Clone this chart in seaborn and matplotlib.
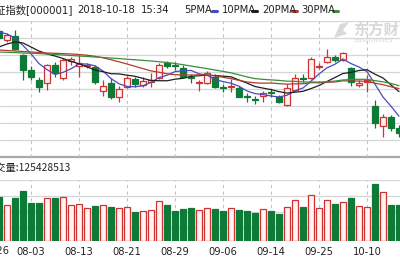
import numpy as np
import pandas as pd
import matplotlib
matplotlib.use("Agg")
import matplotlib.pyplot as plt
import seaborn as sns
from matplotlib.lines import Line2D
from matplotlib.patches import Polygon

# ---------------- data ----------------
dates = ["07-30", "07-31", "08-01", "08-02", "08-03", "08-06", "08-07", "08-08", "08-09", "08-10",
         "08-13", "08-14", "08-15", "08-16", "08-17", "08-20", "08-21", "08-22", "08-23", "08-24",
         "08-27", "08-28", "08-29", "08-30", "08-31", "09-03", "09-04", "09-05", "09-06", "09-07",
         "09-10", "09-11", "09-12", "09-13", "09-14", "09-17", "09-18", "09-19", "09-20", "09-21",
         "09-25", "09-26", "09-27", "09-28", "10-08", "10-09", "10-10", "10-11", "10-12", "10-15",
         "10-16"]
open_p = [2867, 2840, 2852, 2795, 2750, 2720, 2711, 2765, 2726, 2777, 2762, 2762, 2759, 2687, 2711,
          2669, 2699, 2723, 2705, 2714, 2726, 2771, 2765, 2756, 2729, 2711, 2711, 2729, 2699, 2699,
          2696, 2672, 2663, 2672, 2684, 2669, 2645, 2690, 2726, 2726, 2759, 2774, 2789, 2780, 2756,
          2705, 2714, 2642, 2582, 2609, 2576]
high_p = [2873, 2861, 2870, 2798, 2762, 2729, 2768, 2774, 2786, 2789, 2798, 2771, 2765, 2720, 2726,
          2702, 2732, 2729, 2729, 2741, 2771, 2777, 2774, 2765, 2738, 2720, 2747, 2738, 2708, 2723,
          2702, 2681, 2672, 2687, 2693, 2675, 2708, 2738, 2738, 2789, 2771, 2813, 2795, 2804, 2759,
          2720, 2735, 2660, 2618, 2615, 2585]
low_p = [2840, 2834, 2810, 2720, 2720, 2684, 2690, 2729, 2720, 2765, 2729, 2756, 2708, 2672, 2663,
         2654, 2696, 2699, 2699, 2699, 2723, 2756, 2750, 2726, 2711, 2687, 2708, 2696, 2684, 2684,
         2669, 2654, 2648, 2654, 2669, 2651, 2642, 2687, 2714, 2723, 2753, 2771, 2774, 2777, 2702,
         2699, 2684, 2576, 2549, 2567, 2549]
close_p = [2846, 2855, 2813, 2750, 2729, 2699, 2765, 2741, 2780, 2783, 2771, 2765, 2714, 2702, 2669,
           2693, 2726, 2708, 2717, 2720, 2765, 2762, 2762, 2729, 2726, 2714, 2741, 2699, 2696, 2702,
           2669, 2669, 2660, 2681, 2681, 2654, 2696, 2726, 2723, 2783, 2762, 2789, 2780, 2801, 2714,
           2711, 2720, 2591, 2609, 2576, 2561]
ma5 = [2864, 2858, 2846, 2823.5, 2798.6, 2769.2, 2751.2, 2736.8, 2742.8, 2753.6, 2768, 2768, 2762.6,
       2747, 2724.2, 2708.6, 2700.8, 2699.6, 2702.6, 2712.8, 2727.2, 2734.4, 2745.2, 2747.6, 2748.8,
       2738.6, 2734.4, 2721.8, 2715.2, 2710.4, 2701.4, 2687, 2679.2, 2676.2, 2672, 2669, 2674.4,
       2687.6, 2696, 2716.4, 2738, 2756.6, 2767.4, 2783, 2769.2, 2759, 2745.2, 2707.4, 2669, 2641.4,
       2611.4]
ma10 = [2819, 2828, 2834, 2831, 2819, 2807, 2798, 2792, 2784.5, 2776.1, 2768.6, 2759.6, 2749.7,
        2744.9, 2738.9, 2738.3, 2734.4, 2731.1, 2724.8, 2718.5, 2717.9, 2717.6, 2722.4, 2725.1,
        2730.8, 2732.9, 2734.4, 2733.5, 2731.4, 2729.6, 2720, 2710.7, 2700.5, 2695.7, 2691.2, 2685.2,
        2680.7, 2683.4, 2686.1, 2694.2, 2703.5, 2715.5, 2727.5, 2739.5, 2742.8, 2748.5, 2750.9,
        2737.4, 2726, 2705.3, 2685.2]
ma20 = [2810, 2808.5, 2807, 2805.5, 2804, 2802.5, 2801, 2800.1, 2799.2, 2798, 2796.5, 2794.4, 2791.1,
        2786.6, 2780.9, 2774.6, 2768, 2761.1, 2754.2, 2747.3, 2743.25, 2738.6, 2736.05, 2735, 2734.85,
        2735.6, 2734.4, 2732.3, 2728.1, 2724.05, 2718.95, 2714.15, 2711.45, 2710.4, 2711, 2709.05,
        2707.55, 2708.45, 2708.75, 2711.9, 2711.75, 2713.1, 2714, 2717.6, 2717, 2716.85, 2715.8,
        2710.4, 2706.05, 2699.75, 2694.35]
ma30 = [2804, 2803.1, 2802.2, 2801, 2800.1, 2799.2, 2798, 2796.5, 2795, 2793.5, 2792, 2790.5, 2789,
        2787.5, 2786, 2784.2, 2782.4, 2780.6, 2778.8, 2777, 2774.9, 2772.5, 2769.5, 2765.9, 2762,
        2758.1, 2754.2, 2750, 2745.8, 2741.4, 2735.5, 2729.3, 2724.2, 2721.9, 2720.3, 2718.8, 2716.5,
        2716, 2714.1, 2714.1, 2713.8, 2714.6, 2716.8, 2720.1, 2721.6, 2722.2, 2722, 2718.1, 2714.5,
        2709.7, 2702.9]
volume_m = [133, 107, 130, 150, 113, 115, 128, 130, 132, 107, 112, 98, 104, 107, 102, 98, 101, 88, 90,
            93, 119, 107, 91, 96, 98, 93, 98, 96, 91, 98, 93, 90, 85, 95, 91, 82, 103, 123, 101, 137,
            100, 122, 110, 118, 129, 104, 101, 170, 147, 107, 107]
tick_dates = ["08-03", "08-13", "08-21", "08-29", "09-06", "09-14", "09-25", "10-10"]
price_grid = [2897, 2846, 2795, 2744, 2693, 2642, 2591, 2540]
volume_grid = [39, 87, 135]
title_name = "上证指数[000001]"
title_time = ["2018-10-18", "15:34"]
ma_names = ["5PMA", "10PMA", "20PMA", "30PMA"]
volume_label = "成交量:125428513"

# ---------------- style ----------------
sns.set_theme(style="white")
plt.rcParams["font.family"] = ["DejaVu Sans", "Noto Sans CJK SC"]
plt.rcParams["axes.unicode_minus"] = False

RED = "#d03232"
RED_FILL = "#fff3f3"
GREEN = "#0e7a38"
MA_COLORS = ["#4a4ac0", "#1e1e1e", "#b23a2e", "#3c8c3c"]
GRID = "#d6d6d6"

W, H = 400, 260
fig = plt.figure(figsize=(W / 100, H / 100), dpi=100)
fig.patch.set_facecolor("white")


def fx(px):
    return px / W


def fy(py):
    return 1 - py / H


ax = fig.add_axes([0, fy(157), 1, 136 / H])
axv = fig.add_axes([0, fy(241), 1, 61 / H])

df = pd.DataFrame({"date": dates, "open": open_p, "high": high_p, "low": low_p,
                   "close": close_p, "ma5": ma5, "ma10": ma10, "ma20": ma20,
                   "ma30": ma30, "vol": volume_m})
df["i"] = np.arange(len(df))
up = df["close"] >= df["open"]
edge = np.where(up, RED, GREEN)
face = np.where(up, RED_FILL, GREEN)

XLIM = (0.125, 50.125)
for a in (ax, axv):
    a.set_xlim(*XLIM)
    for s in a.spines.values():
        s.set_visible(False)
    a.set_facecolor("white")

ax.set_ylim(2489, 2897)
axv.set_ylim(0, 183)

tick_pos = [dates.index(d) for d in tick_dates]

# grid
for p in price_grid:
    ax.axhline(p, color=GRID, lw=0.9, zorder=0)
ax.axhline(2490.5, color="#a9a9a9", lw=1.6, zorder=0, clip_on=False)
for v in volume_grid + [182]:
    axv.axhline(v, color=GRID, lw=0.9, zorder=0)
for t in tick_pos:
    ax.axvline(t, color="#c4c4c4", lw=0.8, ls=(0, (3, 3)), zorder=0)
    axv.axvline(t, color="#c4c4c4", lw=0.8, ls=(0, (3, 3)), zorder=0)

# candles
ax.vlines(df["i"], df["low"], df["high"], colors=edge, linewidth=0.9, zorder=2)
body_bottom = np.minimum(df["open"], df["close"])
body_h = np.maximum(np.abs(df["close"] - df["open"]), 1.5)
ax.bar(df["i"], body_h, bottom=body_bottom, width=0.68, color=face, edgecolor=edge,
       linewidth=0.9, zorder=3)

# moving averages
for col, c in zip(["ma5", "ma10", "ma20", "ma30"], MA_COLORS):
    sns.lineplot(data=df, x="i", y=col, ax=ax, color=c, linewidth=0.9, legend=False, zorder=4)

# volume
axv.bar(df["i"], df["vol"], width=0.74, color=face, edgecolor=edge, linewidth=0.9, zorder=2)

for a in (ax, axv):
    a.set_xlabel("")
    a.set_ylabel("")
    a.set_yticks([])
ax.set_xticks([])
axv.set_xticks(tick_pos)
axv.set_xticklabels(tick_dates, fontsize=7.2, color="#222222")
axv.tick_params(axis="x", length=0, pad=4)

# left partial label (cropped at the left edge as in the reference)
fig.text(fx(9), fy(251), "07-26", ha="right", va="center", fontsize=7.2, color="#222222")

# title row
TFONT = ["DejaVu Sans", "Noto Sans CJK SC"]
fig.text(fx(-14.6), fy(10), title_name, ha="left", va="center", fontsize=7.4,
         family=TFONT, color="#222222")
fig.text(fx(77), fy(10), title_time[0], ha="left", va="center", fontsize=7.2, color="#222222")
fig.text(fx(141), fy(10), title_time[1], ha="left", va="center", fontsize=7.2, color="#222222")
name_x = [184, 222, 262, 301]
dash_x = [212, 252, 292, 333]
for nm, nx, dx, c in zip(ma_names, name_x, dash_x, MA_COLORS):
    fig.text(fx(nx), fy(10), nm, ha="left", va="center", fontsize=7.2, color="#222222")
    fig.add_artist(Line2D([fx(dx), fx(dx + 5)], [fy(10.5), fy(10.5)], color=c, lw=2.2,
                          transform=fig.transFigure))

# volume label
fig.text(fx(-14.6), fy(168), volume_label, ha="left", va="center", fontsize=7.4,
         family=["Noto Sans CJK SC", "DejaVu Sans"], color="#222222")

# watermark
WM = "#d9d9d9"
fig.text(fx(353), fy(30), "东方财富", ha="left", va="center", fontsize=11, weight="bold",
         family=["Noto Sans CJK SC"], color=WM)
fig.text(fx(354), fy(40), "eastmoney", ha="left", va="center", fontsize=5.2, color=WM)
leaf = Polygon([[fx(334), fy(38)], [fx(340), fy(24)], [fx(349), fy(22)], [fx(343), fy(30)],
                [fx(347), fy(34)], [fx(340), fy(36)]], closed=True, facecolor=WM,
               edgecolor="none", transform=fig.transFigure)
fig.add_artist(leaf)

fig.savefig("out.png", dpi=100)
